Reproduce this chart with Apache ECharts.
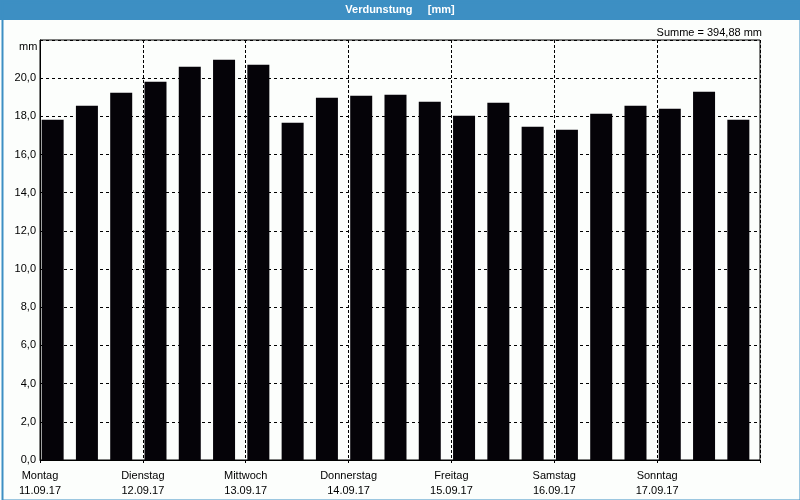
<!DOCTYPE html>
<html><head><meta charset="utf-8">
<script src="https://cdn.jsdelivr.net/npm/echarts@6/dist/echarts.min.js"></script>
<style>html,body{margin:0;padding:0;background:#fcfefc}#c{width:800px;height:500px}</style>
</head><body><div id="c"></div>
<script>
const dayNames = ['Montag','Dienstag','Mittwoch','Donnerstag','Freitag','Samstag','Sonntag'];
const dayDates = ['11.09.17','12.09.17','13.09.17','14.09.17','15.09.17','16.09.17','17.09.17'];
const barsPerDay = 3;
const values = [17.82,18.56,19.24, 19.81,20.60,20.97, 20.70,17.66,18.97, 19.08,19.13,18.76, 18.03,18.71,17.45, 17.30,18.14,18.56, 18.40,19.29,17.82];
const categories = values.map((v,i)=>String(i));
const yTicks = {min:0, max:22, interval:2};
const titleText = 'Verdunstung     [mm]';
const sumText = 'Summe = 394,88 mm';
const unitText = 'mm';

const font = 'Liberation Sans, Arial, sans-serif';
const chart = echarts.init(document.getElementById('c'), null, {renderer:'canvas'});
chart.setOption({
  backgroundColor:'#fcfefc',
  animation:false,
  graphic:[
    {type:'rect', left:0, top:0, shape:{width:800,height:20}, style:{fill:'#3d8fc3'}, z:-1},
    {type:'rect', left:0, top:0, shape:{x:1,y:1,width:798,height:498}, style:{fill:'none', stroke:'#3d8fc3', lineWidth:2}, z:-1}
  ],
  title:[
    {text:titleText, left:'center', top:4, padding:0, textStyle:{color:'#fff', fontSize:11, fontWeight:'bold', fontFamily:font}},
    {text:sumText, right:38, top:27, padding:0, textStyle:{color:'#000', fontSize:11, fontWeight:'normal', fontFamily:font}},
    {text:unitText, left:19, top:41, padding:0, textStyle:{color:'#000', fontSize:11, fontWeight:'normal', fontFamily:font}}
  ],
  grid:{left:40, right:40, top:40, bottom:40, show:true, borderColor:'#000', borderWidth:1, backgroundColor:'transparent'},
  xAxis:[
    {type:'category', data:categories, boundaryGap:true, show:false},
    {type:'value', position:'bottom', min:0, max:values.length, interval:barsPerDay,
      axisLine:{show:true, onZero:false, lineStyle:{color:'#000', width:1}},
      axisTick:{show:true, length:3, lineStyle:{color:'#000'}},
      splitLine:{show:true, lineStyle:{color:'#000', type:[3,2], width:1}},
      axisLabel:{margin:8, color:'#000', fontSize:11, fontFamily:font, lineHeight:15, showMaxLabel:true,
        formatter:function(v){const d=Math.round(v/barsPerDay); return d<dayNames.length ? dayNames[d]+'\n'+dayDates[d] : '';}}
    }
  ],
  yAxis:{type:'value', min:yTicks.min, max:yTicks.max, interval:yTicks.interval,
    axisLine:{show:true, lineStyle:{color:'#000', width:1}},
    axisTick:{show:false},
    splitLine:{show:true, lineStyle:{color:'#000', type:[3,3], width:1}},
    axisLabel:{margin:4, color:'#000', fontSize:11, fontFamily:font,
      formatter:function(v){return v>=yTicks.max ? '' : v.toFixed(1).replace('.',',');}}
  },
  series:[
    {type:'bar', xAxisIndex:0, data:values, barWidth:22, barGap:'-59%', itemStyle:{color:'#050308'}, z:3},
    {type:'bar', xAxisIndex:0, data:values.map(()=>'-'), barWidth:22, itemStyle:{color:'transparent'}}
  ]
});
</script></body></html>
